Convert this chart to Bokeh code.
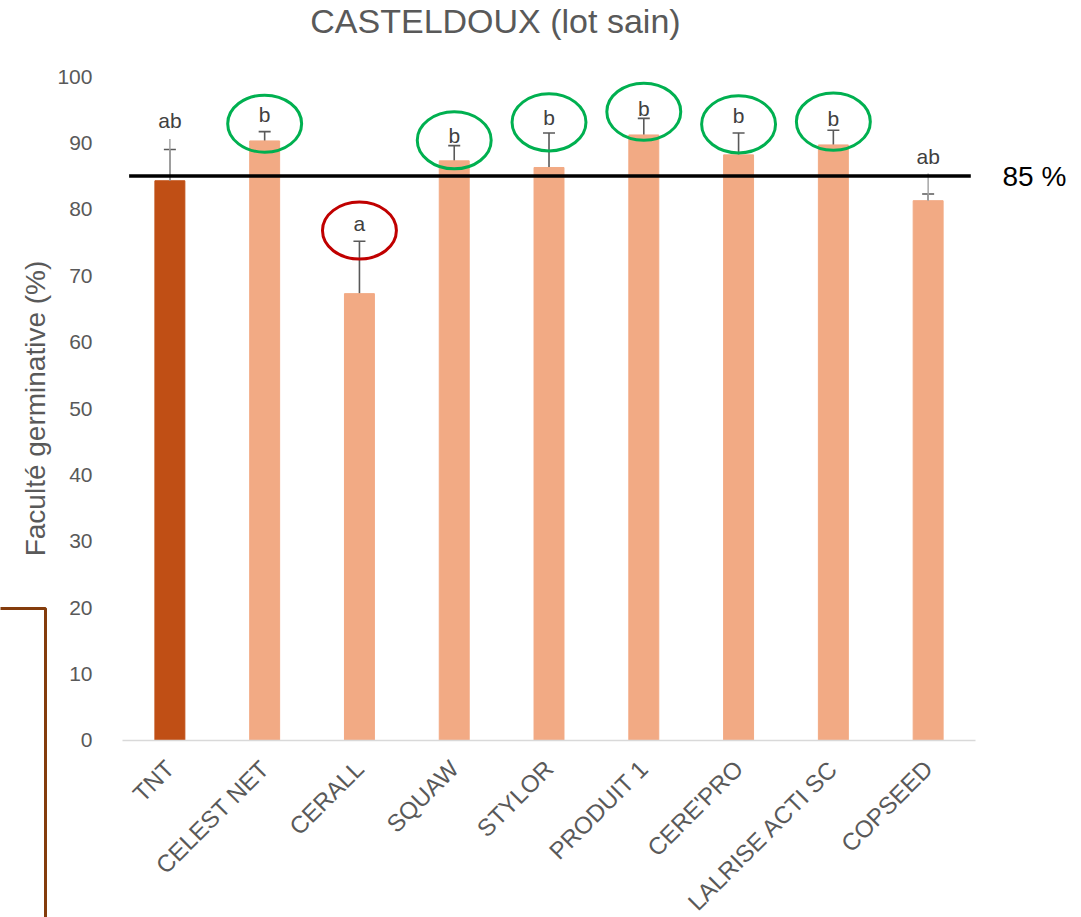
from math import pi
from bokeh.plotting import figure
from bokeh.models import (ColumnDataSource, Range1d, FixedTicker, Whisker, TeeHead, Label)
from bokeh.core.properties import value
from bokeh.embed import file_html
from bokeh.resources import INLINE

# ---- data ----
categories = ["TNT", "CELEST NET", "CERALL", "SQUAW", "STYLOR", "PRODUIT 1",
              "CERE'PRO", "LALRISE ACTI SC", "COPSEED"]
means = [84.3, 90.3, 67.3, 87.3, 86.3, 91.2, 88.2, 89.7, 81.3]
err_low = [79.7, 88.9, 59.5, 85.0, 81.1, 88.7, 85.1, 87.6, 80.5]
err_high = [89.0, 91.7, 75.2, 89.6, 91.5, 93.7, 91.5, 91.9, 82.3]
bar_colors = ["#C04F15"] + ["#F2AA84"] * 8

light_cats = ["TNT", "COPSEED"]
light_low = [84.3, 81.3]
light_high = [90.6, 85.4]

letters = ["ab", "b", "a", "b", "b", "b", "b", "b", "ab"]
letter_y = [93.4, 94.3, 77.9, 91.1, 93.8, 95.2, 94.1, 93.7, 88.0]

ell_cats = ["CELEST NET", "CERALL", "SQUAW", "STYLOR", "PRODUIT 1", "CERE'PRO", "LALRISE ACTI SC"]
ell_y = [92.9, 76.8, 90.4, 93.1, 94.7, 92.8, 93.2]
ell_colors = ["#00B050", "#C00000", "#00B050", "#00B050", "#00B050", "#00B050", "#00B050"]

threshold = 85
y_ticks = [0, 10, 20, 30, 40, 50, 60, 70, 80, 90, 100]

FONT = "Liberation Sans"
GREY = "#595959"

# category positions on a numeric axis (one unit per category)
pos = {c: i + 0.5 for i, c in enumerate(categories)}
xs = [pos[c] for c in categories]

src = ColumnDataSource(dict(x=xs, cat=categories, mean=means, lo=err_low, hi=err_high,
                            color=bar_colors, letter=letters, ly=letter_y))

p = figure(x_range=Range1d(-1.287, 10.118), y_range=Range1d(-26.66, 111.45),
           width=1081, height=917, output_backend="svg", toolbar_location=None,
           min_border=0, min_border_left=0, min_border_right=0, min_border_top=0,
           min_border_bottom=0)
p.outline_line_color = None
p.xgrid.visible = False
p.ygrid.visible = False

p.vbar(x="x", top="mean", width=0.316, color="color", source=src)

# light grey extensions of error bars
p.segment(x0=[pos[c] for c in light_cats], y0=light_low,
          x1=[pos[c] for c in light_cats], y1=light_high,
          line_color="#A6A6A6", line_width=1.5)

w = Whisker(source=src, base="x", upper="hi", lower="lo", line_color=GREY, line_width=1.6,
            upper_head=TeeHead(size=12, line_color=GREY, line_width=1.6),
            lower_head=TeeHead(size=12, line_color=GREY, line_width=1.6))
p.add_layout(w)

# 85 % threshold line
p.segment(x0=[0.07], y0=[threshold], x1=[8.95], y1=[threshold], line_color="black", line_width=3.5)

p.text(x="x", y="ly", text="letter", source=src, text_align="center", text_baseline="middle",
       text_font=value(FONT), text_font_size="21px", text_color="#404040")

p.ellipse(x=[pos[c] for c in ell_cats], y=ell_y, width=0.78, height=8.6, fill_alpha=0,
          line_color=ell_colors, line_width=3)

# axes (fixed inside the full-canvas frame)
p.yaxis.fixed_location = 0
p.yaxis.bounds = (0, 100)
p.yaxis.ticker = FixedTicker(ticks=y_ticks)
p.yaxis.axis_line_color = None
p.yaxis.major_tick_line_color = None
p.yaxis.minor_tick_line_color = None
p.yaxis.major_label_text_font = FONT
p.yaxis.major_label_text_font_size = "21px"
p.yaxis.major_label_text_color = GREY
p.yaxis.major_label_standoff = 24
p.yaxis.axis_label = "Faculté germinative (%)"
p.yaxis.axis_label_text_font = FONT
p.yaxis.axis_label_text_font_size = "28px"
p.yaxis.axis_label_text_font_style = "normal"
p.yaxis.axis_label_text_color = GREY
p.yaxis.axis_label_standoff = 3

p.xaxis.fixed_location = 0
p.xaxis.bounds = (0, len(categories))
p.xaxis.ticker = FixedTicker(ticks=xs)
p.xaxis.major_label_overrides = {x: c for x, c in zip(xs, categories)}
p.xaxis.axis_line_color = "#D9D9D9"
p.xaxis.axis_line_width = 1.5
p.xaxis.major_tick_line_color = None
p.xaxis.minor_tick_line_color = None
p.xaxis.major_label_orientation = pi / 4
p.xaxis.major_label_text_font = FONT
p.xaxis.major_label_text_font_size = "24px"
p.xaxis.major_label_text_color = GREY
p.xaxis.major_label_standoff = 18

# title and threshold label
p.add_layout(Label(x=3.935, y=108.3, text="CASTELDOUX (lot sain)", text_align="center",
                   text_baseline="alphabetic", text_font=FONT, text_font_size="34px",
                   text_color=GREY))
p.add_layout(Label(x=9.285, y=threshold, text="85 %", text_align="left", text_baseline="middle",
                   text_font=FONT, text_font_size="28px", text_color="black"))

# partial brown frame at the left edge (decoration from the original slide)
p.line(x=[-2, -0.812, -0.812], y=[19.88, 19.88, -40], line_color="#843C0C", line_width=3)

open("out.html", "w").write(file_html(p, INLINE))
